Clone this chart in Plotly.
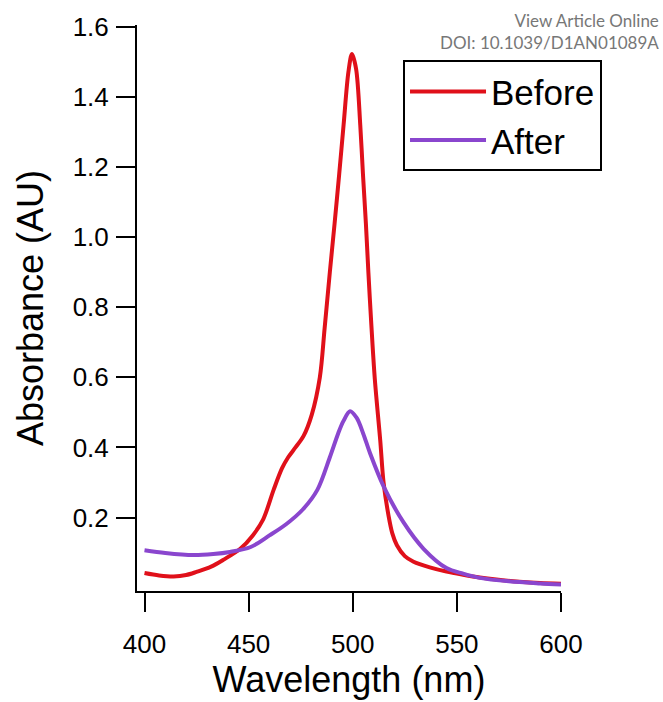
import plotly.graph_objects as go

# ---------------- data ----------------
wl_before = [400, 407, 414, 420, 425, 432, 438, 446, 452, 457, 462, 466, 469, 472.5, 476.4,
             480.3, 484.2, 486.5, 489, 491.3, 493.5, 495.6, 497.9, 499.6, 501.6, 503.6, 504.9,
             506.3, 507.5, 508.8, 510.6, 513.2, 514.8, 517.2, 519, 521.2, 525, 529.2, 537,
             545, 553, 561, 569, 580, 590, 600]
abs_before = [0.042, 0.035, 0.032, 0.036, 0.045, 0.060, 0.080, 0.111, 0.149, 0.195, 0.279,
              0.340, 0.372, 0.400, 0.433, 0.493, 0.600, 0.740, 0.900, 1.040, 1.180, 1.320,
              1.470, 1.522, 1.480, 1.320, 1.180, 1.040, 0.900, 0.763, 0.595, 0.420, 0.300,
              0.205, 0.155, 0.121, 0.090, 0.074, 0.058, 0.046, 0.037, 0.029, 0.023, 0.017,
              0.013, 0.011]

wl_after = [400, 410, 423.5, 433, 441, 451, 460, 468, 476, 483, 489, 493, 495.5, 498.7,
            501.9, 505, 508.4, 514.8, 524.4, 534, 545, 553, 561, 575, 590, 600]
abs_after = [0.107, 0.099, 0.093, 0.096, 0.102, 0.116, 0.149, 0.181, 0.223, 0.279, 0.372,
             0.440, 0.475, 0.503, 0.484, 0.440, 0.382, 0.289, 0.186, 0.111, 0.056, 0.040,
             0.028, 0.018, 0.012, 0.009]

series_names = ["Before", "After"]
series_colors = ["#E0101A", "#8A46CE"]

x_ticks = [400, 450, 500, 550, 600]
y_ticks = [0.2, 0.4, 0.6, 0.8, 1.0, 1.2, 1.4, 1.6]
y_tick_text = ["0.2", "0.4", "0.6", "0.8", "1.0", "1.2", "1.4", "1.6"]

FONT = "Liberation Sans, Arial, sans-serif"

fig = go.Figure()
for wl, ab, name, col in [(wl_before, abs_before, series_names[0], series_colors[0]),
                          (wl_after, abs_after, series_names[1], series_colors[1])]:
    fig.add_trace(go.Scatter(x=wl, y=ab, mode="lines", name=name,
                             line=dict(color=col, width=4, shape="spline", smoothing=0.9)))

axis_common = dict(showline=True, linecolor="black", linewidth=2, ticks="outside",
                   ticklen=19, tickwidth=2, tickcolor="black", showgrid=False,
                   zeroline=False, tickfont=dict(family=FONT, size=26, color="black"))

fig.update_layout(
    width=663, height=702,
    margin=dict(l=137, r=102, t=22, b=102),
    paper_bgcolor="white", plot_bgcolor="white",
    font=dict(family=FONT, color="black"),
    xaxis=dict(range=[396.4, 600], tickvals=x_ticks,
               title=dict(text="Wavelength (nm)", font=dict(family=FONT, size=36), standoff=6),
               ticklabelstandoff=10, **axis_common),
    yaxis=dict(range=[-0.0095, 1.605], tickvals=y_ticks, ticktext=y_tick_text,
               title=dict(text="Absorbance (AU)", font=dict(family=FONT, size=36), standoff=18),
               ticklabelstandoff=2, **axis_common),
    legend=dict(x=0.6274, y=0.9377, xanchor="left", yanchor="top",
                bordercolor="black", borderwidth=2, bgcolor="white",
                font=dict(family=FONT, size=35, color="black"),
                itemwidth=76, tracegroupgap=0, entrywidth=210),
    showlegend=True,
)

fig.add_annotation(xref="paper", yref="paper", x=1.2358, y=1.0294, xanchor="right",
                   yanchor="top", showarrow=False, align="right",
                   text="View Article Online<br>DOI: 10.1039/D1AN01089A",
                   font=dict(family="Lato, sans-serif", size=17, color="#777777"))

fig.write_html("out.html")
